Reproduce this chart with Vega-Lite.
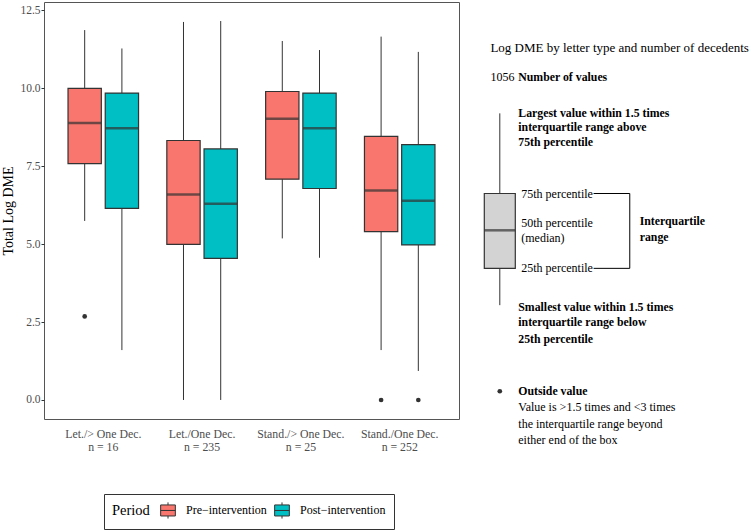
{
  "$schema": "https://vega.github.io/schema/vega-lite/v6.json",
  "padding": {"left": 1, "top": 1, "right": 0, "bottom": 0},
  "background": "white",
  "spacing": 8,
  "config": {
    "font": "Liberation Serif",
    "view": {"stroke": "#555555", "strokeWidth": 1}
  },
  "datasets": {
    "boxes": [
      {"group": "Let./> One Dec.|n = 16", "period": "Pre\u2212intervention", "lower": 5.74, "q1": 7.58, "median": 8.88, "q3": 9.99, "upper": 11.86},
      {"group": "Let./> One Dec.|n = 16", "period": "Post\u2212intervention", "lower": 1.60, "q1": 6.14, "median": 8.71, "q3": 9.84, "upper": 11.27},
      {"group": "Let./One Dec.|n = 235", "period": "Pre\u2212intervention", "lower": 0.0, "q1": 4.99, "median": 6.59, "q3": 8.32, "upper": 12.12},
      {"group": "Let./One Dec.|n = 235", "period": "Post\u2212intervention", "lower": 0.0, "q1": 4.54, "median": 6.29, "q3": 8.05, "upper": 12.15},
      {"group": "Stand./> One Dec.|n = 25", "period": "Pre\u2212intervention", "lower": 5.18, "q1": 7.08, "median": 9.02, "q3": 9.89, "upper": 11.51},
      {"group": "Stand./> One Dec.|n = 25", "period": "Post\u2212intervention", "lower": 4.56, "q1": 6.78, "median": 8.71, "q3": 9.84, "upper": 11.22},
      {"group": "Stand./One Dec.|n = 252", "period": "Pre\u2212intervention", "lower": 1.60, "q1": 5.40, "median": 6.72, "q3": 8.45, "upper": 11.65},
      {"group": "Stand./One Dec.|n = 252", "period": "Post\u2212intervention", "lower": 0.93, "q1": 4.97, "median": 6.39, "q3": 8.19, "upper": 11.16}
    ],
    "outliers": [
      {"group": "Let./> One Dec.|n = 16", "period": "Pre\u2212intervention", "value": 2.68},
      {"group": "Stand./One Dec.|n = 252", "period": "Pre\u2212intervention", "value": 0.0},
      {"group": "Stand./One Dec.|n = 252", "period": "Post\u2212intervention", "value": 0.0}
    ],
    "keybox": [
      {"pos": 1, "lower": 3.04, "q1": 4.22, "median": 5.44, "q3": 6.62, "upper": 9.19, "outlier": 0.28}
    ],
    "keylines": [
      {"x": 4.5, "x2": 5.85, "y": 6.62, "y2": 6.62},
      {"x": 5.85, "x2": 5.85, "y": 4.22, "y2": 6.62},
      {"x": 4.5, "x2": 5.85, "y": 4.22, "y2": 4.22}
    ],
    "keylabels": [
      {"label": "Log DME by letter type and number of decedents", "x": 0.65, "y": 11.27, "kind": "title"},
      {"label": "1056", "x": 0.65, "y": 10.36, "kind": "plain"},
      {"label": "Number of values", "x": 1.69, "y": 10.36, "kind": "bold"},
      {"label": "Largest value within 1.5 times", "x": 1.69, "y": 9.19, "kind": "bold"},
      {"label": "interquartile range above", "x": 1.69, "y": 8.74, "kind": "bold"},
      {"label": "75th percentile", "x": 1.69, "y": 8.28, "kind": "bold"},
      {"label": "75th percentile", "x": 1.8, "y": 6.62, "kind": "plain"},
      {"label": "50th percentile", "x": 1.8, "y": 5.68, "kind": "plain"},
      {"label": "(median)", "x": 1.8, "y": 5.2, "kind": "plain"},
      {"label": "25th percentile", "x": 1.8, "y": 4.22, "kind": "plain"},
      {"label": "Interquartile", "x": 6.22, "y": 5.75, "kind": "bold"},
      {"label": "range", "x": 6.22, "y": 5.23, "kind": "bold"},
      {"label": "Smallest value within 1.5 times", "x": 1.69, "y": 2.99, "kind": "bold"},
      {"label": "interquartile range below", "x": 1.69, "y": 2.49, "kind": "bold"},
      {"label": "25th percentile", "x": 1.69, "y": 1.97, "kind": "bold"},
      {"label": "Outside value", "x": 1.69, "y": 0.28, "kind": "bold"},
      {"label": "Value is >1.5 times and <3 times", "x": 1.69, "y": -0.24, "kind": "plain"},
      {"label": "the interquartile range beyond", "x": 1.69, "y": -0.76, "kind": "plain"},
      {"label": "either end of the box", "x": 1.69, "y": -1.28, "kind": "plain"}
    ]
  },
  "hconcat": [
    {
      "width": 415,
      "height": 417,
      "data": {"name": "boxes"},
      "encoding": {
        "x": {
          "field": "group", "type": "nominal",
          "sort": ["Let./> One Dec.|n = 16", "Let./One Dec.|n = 235", "Stand./> One Dec.|n = 25", "Stand./One Dec.|n = 252"],
          "scale": {"paddingInner": 0.2, "paddingOuter": 0.2},
          "axis": {"title": null, "labelAngle": 0, "labelExpr": "split(datum.label, '|')", "labelFontSize": 11.8, "labelColor": "#4D4D4D", "labelLineHeight": 13, "labelPadding": 9, "ticks": false, "domain": false, "grid": false}
        },
        "xOffset": {
          "field": "period", "type": "nominal",
          "sort": ["Pre\u2212intervention", "Post\u2212intervention"],
          "scale": {"paddingInner": 0.105, "paddingOuter": 0.1145}
        }
      },
      "layer": [
        {
          "mark": {"type": "rule", "color": "#333333", "strokeWidth": 1},
          "encoding": {
            "y": {"field": "lower", "type": "quantitative",
              "scale": {"domain": [-0.61, 12.76], "nice": false, "zero": false},
              "axis": {"title": "Total Log DME", "titleFontSize": 14, "titleFontWeight": "normal", "titleColor": "black", "titlePadding": 4, "values": [0, 2.5, 5, 7.5, 10, 12.5], "format": ".1f", "labelFontSize": 11.5, "labelColor": "#4D4D4D", "labelPadding": 1, "tickSize": 3, "tickColor": "#333333", "domain": false, "grid": false}},
            "y2": {"field": "upper"}
          }
        },
        {
          "mark": {"type": "bar", "stroke": "#333333", "strokeWidth": 1.2},
          "encoding": {
            "y": {"field": "q1", "type": "quantitative"},
            "y2": {"field": "q3"},
            "fill": {
              "field": "period", "type": "nominal",
              "sort": ["Pre\u2212intervention", "Post\u2212intervention"],
              "scale": {"domain": ["Pre\u2212intervention", "Post\u2212intervention"], "range": ["#F8766D", "#00BFC4"]},
              "legend": {
                "title": "Period", "orient": "none", "legendX": 60, "legendY": 492,
                "direction": "horizontal", "titleOrient": "left", "titleFontSize": 14.5, "titleFontWeight": "normal", "titleColor": "black",
                "titlePadding": 10,
                "labelFontSize": 12, "labelColor": "black", "labelOffset": 10, "columnPadding": 5,
                "symbolType": "M-1,-0.75H1V0.75H-1Z M-1,0H1 M0,-0.75V-1.1 M0,0.75V1.1",
                "symbolSize": 216, "symbolStrokeColor": "#333333", "symbolStrokeWidth": 1,
                "strokeColor": "#333333", "padding": 8, "fillColor": "white"
              }
            }
          }
        },
        {
          "mark": {"type": "tick", "color": "#333333", "size": 33, "thickness": 2.5, "orient": "horizontal"},
          "encoding": {
            "y": {"field": "median", "type": "quantitative"}
          }
        },
        {
          "data": {"name": "outliers"},
          "mark": {"type": "point", "filled": true, "color": "#333333", "size": 22, "opacity": 1},
          "encoding": {
            "y": {"field": "value", "type": "quantitative"}
          }
        }
      ]
    },
    {
      "width": 278,
      "height": 417,
      "view": {"stroke": null},
      "layer": [
        {
          "data": {"name": "keybox"},
          "mark": {"type": "rule", "color": "#333333", "strokeWidth": 1},
          "encoding": {
            "x": {"field": "pos", "type": "quantitative", "scale": {"domain": [0, 10], "nice": false, "zero": false}, "axis": null},
            "y": {"field": "lower", "type": "quantitative", "scale": {"domain": [-0.61, 12.76], "nice": false, "zero": false}, "axis": null},
            "y2": {"field": "upper"}
          }
        },
        {
          "data": {"name": "keybox"},
          "mark": {"type": "bar", "fill": "#D3D3D3", "stroke": "#333333", "strokeWidth": 1.2, "width": 31},
          "encoding": {
            "x": {"field": "pos", "type": "quantitative"},
            "y": {"field": "q1", "type": "quantitative"},
            "y2": {"field": "q3"}
          }
        },
        {
          "data": {"name": "keybox"},
          "mark": {"type": "tick", "color": "#333333", "size": 31, "thickness": 2.5, "orient": "horizontal"},
          "encoding": {
            "x": {"field": "pos", "type": "quantitative"},
            "y": {"field": "median", "type": "quantitative"}
          }
        },
        {
          "data": {"name": "keybox"},
          "mark": {"type": "point", "filled": true, "color": "#333333", "size": 22, "opacity": 1},
          "encoding": {
            "x": {"field": "pos", "type": "quantitative"},
            "y": {"field": "outlier", "type": "quantitative"}
          }
        },
        {
          "data": {"name": "keylines"},
          "mark": {"type": "rule", "color": "black", "strokeWidth": 1},
          "encoding": {
            "x": {"field": "x", "type": "quantitative"},
            "x2": {"field": "x2"},
            "y": {"field": "y", "type": "quantitative"},
            "y2": {"field": "y2"}
          }
        },
        {
          "data": {"name": "keylabels"},
          "transform": [{"filter": "datum.kind === 'title'"}],
          "mark": {"type": "text", "align": "left", "baseline": "middle", "fontSize": 13, "color": "black"},
          "encoding": {
            "x": {"field": "x", "type": "quantitative"},
            "y": {"field": "y", "type": "quantitative"},
            "text": {"field": "label"}
          }
        },
        {
          "data": {"name": "keylabels"},
          "transform": [{"filter": "datum.kind === 'plain'"}],
          "mark": {"type": "text", "align": "left", "baseline": "middle", "fontSize": 12, "color": "black"},
          "encoding": {
            "x": {"field": "x", "type": "quantitative"},
            "y": {"field": "y", "type": "quantitative"},
            "text": {"field": "label"}
          }
        },
        {
          "data": {"name": "keylabels"},
          "transform": [{"filter": "datum.kind === 'bold'"}],
          "mark": {"type": "text", "align": "left", "baseline": "middle", "fontSize": 11.8, "fontWeight": "bold", "color": "black"},
          "encoding": {
            "x": {"field": "x", "type": "quantitative"},
            "y": {"field": "y", "type": "quantitative"},
            "text": {"field": "label"}
          }
        }
      ]
    }
  ]
}
